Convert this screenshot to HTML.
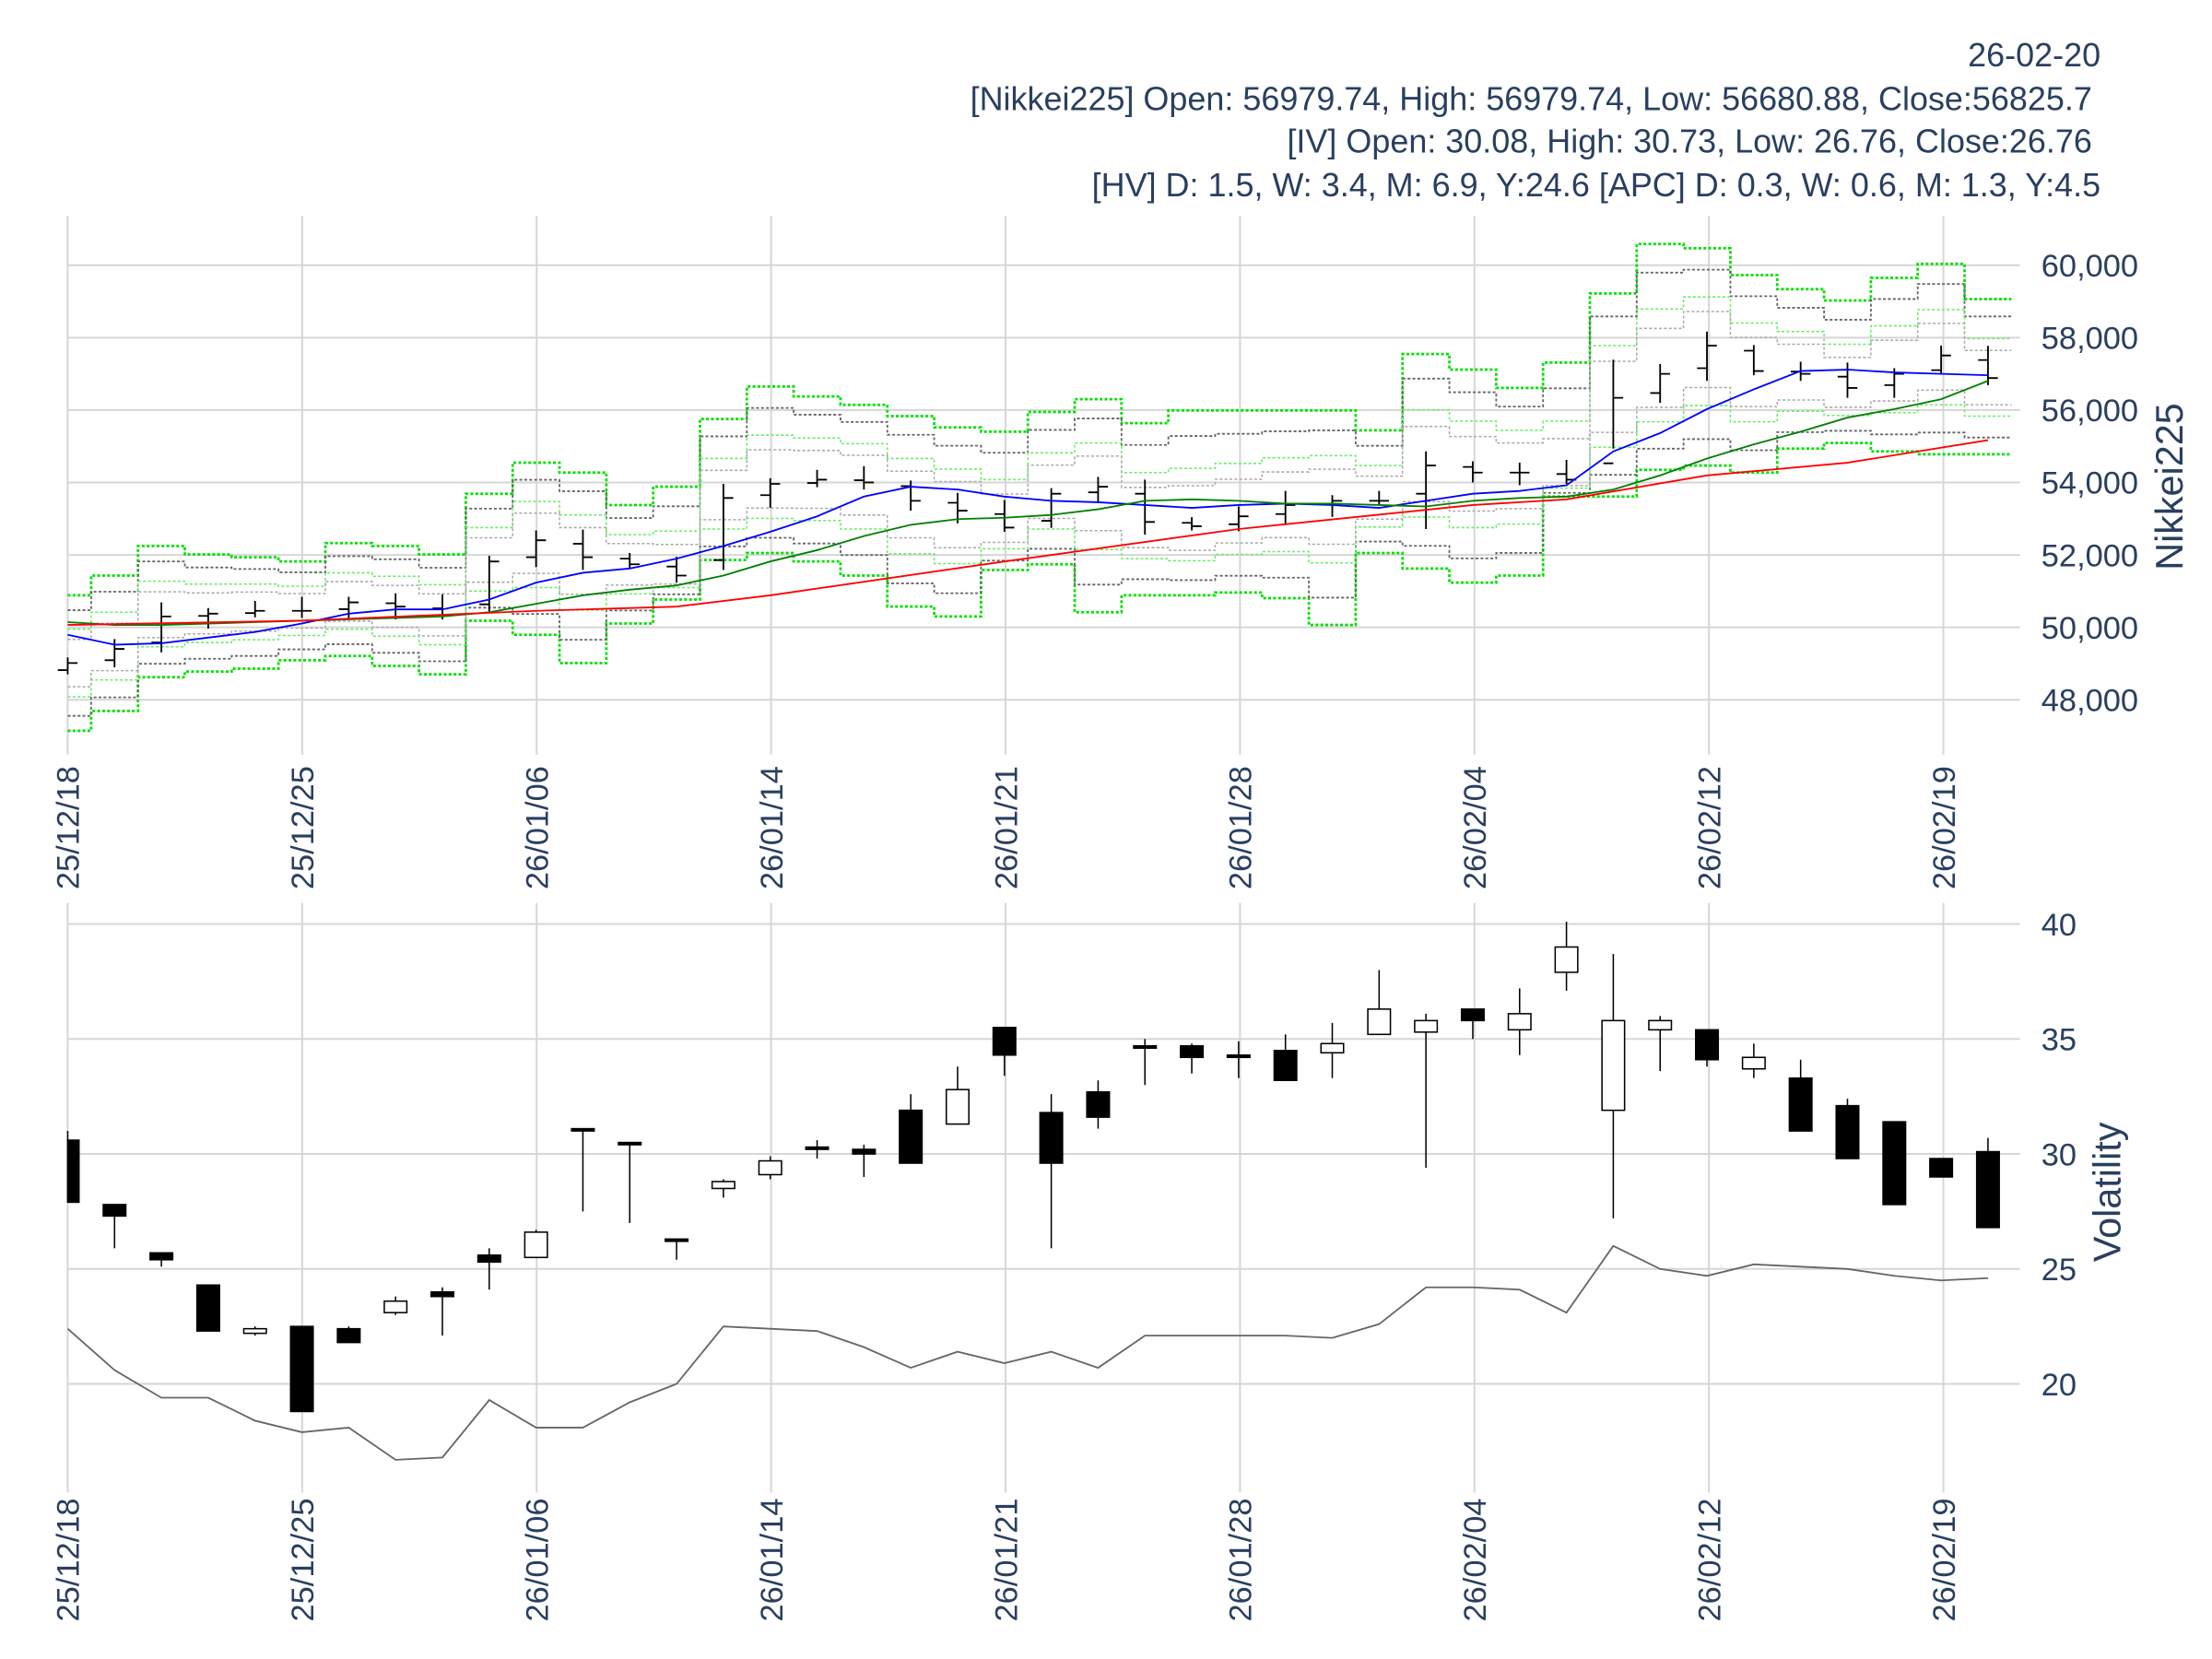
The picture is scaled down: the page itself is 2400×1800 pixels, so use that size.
<!DOCTYPE html>
<html><head><meta charset="utf-8"><style>
html,body{margin:0;padding:0;background:#fff;}
svg{display:block;}
text{font-family:"Liberation Sans",sans-serif;fill:#2a3f5f;}
</style></head><body>
<svg id="s" width="2400" height="1800" viewBox="0 0 1568 1176" xmlns="http://www.w3.org/2000/svg">
<g id="g"></g>
<text x="1489" y="47" font-size="23.5" text-anchor="end">26-02-20</text>
<text x="1483" y="78" font-size="23.5" text-anchor="end">[Nikkei225] Open: 56979.74, High: 56979.74, Low: 56680.88, Close:56825.7</text>
<text x="1483" y="108" font-size="23.5" text-anchor="end">[IV] Open: 30.08, High: 30.73, Low: 26.76, Close:26.76</text>
<text x="1489" y="139" font-size="23.5" text-anchor="end">[HV] D: 1.5, W: 3.4, M: 6.9, Y:24.6 [APC] D: 0.3, W: 0.6, M: 1.3, Y:4.5</text>
<text transform="translate(1547,345) rotate(-90)" font-size="27" text-anchor="middle">Nikkei225</text>
<text transform="translate(1503,845) rotate(-90)" font-size="27" text-anchor="middle">Volatility</text>
</svg>
<script>
var g=document.getElementById('g'),h='';
function X(i){return 48+i*33.2;}
function YT(v){return 188+(60000-v)*0.02567;}
function YB(v){return 655+(40-v)*16.3;}
var dates=['25/12/18','25/12/25','26/01/06','26/01/14','26/01/21','26/01/28','26/02/04','26/02/12','26/02/19'];
for(var k=0;k<9;k++){var x=48+k*166.2;
 h+='<line x1="'+x+'" y1="153" x2="'+x+'" y2="535" stroke="#d6d6d6" stroke-width="1.3"/>';
 h+='<line x1="'+x+'" y1="640" x2="'+x+'" y2="1058" stroke="#d6d6d6" stroke-width="1.3"/>';
 h+='<text transform="translate('+(x+8)+',543) rotate(-90)" font-size="22.5" text-anchor="end">'+dates[k]+'</text>';
 h+='<text transform="translate('+(x+8)+',1062) rotate(-90)" font-size="22.5" text-anchor="end">'+dates[k]+'</text>';}
for(var v=48000;v<=60000;v+=2000){var y=YT(v);
 h+='<line x1="48" y1="'+y+'" x2="1432" y2="'+y+'" stroke="#d6d6d6" stroke-width="1.3"/>';
 h+='<text x="1447" y="'+(y+8)+'" font-size="22.5">'+v.toLocaleString('en-US')+'</text>';}
for(var v=20;v<=40;v+=5){var y=YB(v);
 h+='<line x1="48" y1="'+y+'" x2="1432" y2="'+y+'" stroke="#d6d6d6" stroke-width="1.3"/>';
 h+='<text x="1447" y="'+(y+8)+'" font-size="22.5">'+v+'</text>';}
var C=[470,460,437,435,433,433,427,430,436,398,383,395,400,408,353,343,340,342,355,362,374,350,345,370,373,366,358,355,355,330,335,335,340,282,265,245,263,265,275,265,252,268];
var U=[422,408,387,393,395,398,385,387,393,350,328,335,358,345,297,274,281,287,295,303,306,292,283,300,291,291,291,291,305,251,262,275,257,208,173,176,195,205,213,197,187,212];
var L=[518,504,480,476,474,468,465,472,478,440,450,470,442,425,397,392,398,408,430,437,404,400,434,422,422,420,424,443,392,403,413,408,352,352,333,330,335,318,314,320,322,322];
function step(f,col,dash,w){var d='';for(var i=0;i<42;i++){var y=f(i);var x0=X(i)-16.6,x1=X(i)+16.6;if(i==0)x0=48;d+=(i==0?'M':'L')+x0+' '+y+'L'+x1+' '+y;}
 h+='<path d="'+d+'" fill="none" stroke="'+col+'" stroke-width="'+w+'" stroke-dasharray="'+dash+'"/>';}
step(function(i){return U[i];},'#00e000','2 1.5',1.8);
step(function(i){return L[i];},'#00e000','2 1.5',1.8);
step(function(i){return C[i]+(U[i]-C[i])*0.78;},'#666','2 1.5',1.2);
step(function(i){return C[i]+(L[i]-C[i])*0.78;},'#666','2 1.5',1.2);
step(function(i){return C[i]+(U[i]-C[i])*0.5;},'#66ee66','2 1.5',1);
step(function(i){return C[i]+(L[i]-C[i])*0.5;},'#66ee66','2 1.5',1);
step(function(i){return C[i]+(U[i]-C[i])*0.35;},'#aaa','2 1.5',1);
step(function(i){return C[i]+(L[i]-C[i])*0.35;},'#aaa','2 1.5',1);
for(var i=0;i<42;i++){var x=X(i),c=C[i],o=i?C[i-1]+(c-C[i-1])*0.2:c+5;var hi=Math.min(o,c)-4-(i%3)*3,lo=Math.max(o,c)+3+(i%4)*2;
 if(i==33){hi=255;lo=318;} if(i==29){hi=320;lo=375;}
 h+='<path d="M'+x+' '+hi+'V'+lo+'M'+(x-7)+' '+o+'H'+x+'M'+x+' '+c+'H'+(x+7)+'" stroke="#000" stroke-width="1.2" fill="none"/>';}
function line(pts,col){var d='';pts.forEach(function(p,i){d+=(i?'L':'M')+X(p[0])+' '+p[1];});h+='<path d="'+d+'" fill="none" stroke="'+col+'" stroke-width="1.2"/>';}
var B=[450,457,456,452,448,442,435,432,432,425,413,406,403,396,387,377,366,352,345,347,352,355,356,358,360,358,357,358,360,355,350,348,344,320,307,290,276,263,262,264,265,266];
var G=[441,443,443,442,441,440,439,438,437,434,428,422,418,415,408,398,390,380,372,368,367,365,361,355,354,355,357,357,358,359,355,353,352,347,337,325,315,306,296,290,283,270];
line(B.map(function(y,i){return [i,y];}),'#0000ff');
line(G.map(function(y,i){return [i,y];}),'#008000');
line([[0,443],[5,440],[10,433],[13,430],[15,422],[20,398],[25,375],[30,358],[32,354],[35,337],[38,328],[41,312]],'#ff0000');
var K=[[30.6,27.9,31,27.9],[27.8,27.3,27.8,25.9],[25.7,25.4,25.7,25.1],[24.3,22.3,24.3,22.3],[22.2,22.4,22.5,22.1],[22.5,18.8,22.5,18.8],[22.4,21.8,22.5,21.8],[23.1,23.6,23.8,23.0],[24.0,23.8,24.2,22.1],[25.6,25.3,25.9,24.1],[25.5,26.6,26.7,25.5],[31.1,31.0,31.1,27.5],[30.5,30.4,30.5,27.0],[26.3,26.2,26.3,25.4],[28.5,28.8,28.9,28.1],[29.1,29.7,29.9,28.9],[30.3,30.2,30.6,29.8],[30.2,30.0,30.4,29.0],[31.9,29.6,32.6,29.6],[31.3,32.8,33.8,31.3],[35.5,34.3,35.5,33.4],[31.8,29.6,32.6,25.9],[32.7,31.6,33.2,31.1],[34.7,34.6,35.0,33.0],[34.7,34.2,34.8,33.5],[34.3,34.2,34.9,33.3],[34.5,33.2,35.2,33.2],[34.4,34.8,35.7,33.3],[35.2,36.3,38.0,35.2],[35.3,35.8,36.1,29.4],[36.3,35.8,36.3,35.0],[35.4,36.1,37.2,34.3],[37.9,39.0,40.1,37.1],[31.9,35.8,38.7,27.2],[35.4,35.8,36.0,33.6],[35.4,34.1,35.4,33.8],[33.7,34.2,34.8,33.3],[33.3,31.0,34.1,31.0],[32.1,29.8,32.4,29.8],[31.4,27.8,31.4,27.8],[29.8,29.0,29.8,29.0],[30.1,26.8,30.7,26.8]];
K.forEach(function(k,i){var x=X(i),o=k[0],c=k[1];var up=c>=o;var t=YB(Math.max(o,c)),b=YB(Math.min(o,c));var bh=Math.max(b-t,1.5);
 var x0=i==0?48:x-8,w=i==0?8:16;
 h+='<line x1="'+x+'" y1="'+YB(k[2])+'" x2="'+x+'" y2="'+YB(k[3])+'" stroke="#000" stroke-width="1"/>';
 h+='<rect x="'+x0+'" y="'+t+'" width="'+w+'" height="'+bh+'" fill="'+(up?'#fff':'#000')+'" stroke="#000" stroke-width="1"/>';});
var HV=[22.4,20.6,19.4,19.4,18.4,17.9,18.1,16.7,16.8,19.3,18.1,18.1,19.2,20.0,22.5,22.4,22.3,21.6,20.7,21.4,20.9,21.4,20.7,22.1,22.1,22.1,22.1,22.0,22.6,24.2,24.2,24.1,23.1,26.0,25.0,24.7,25.2,25.1,25.0,24.7,24.5,24.6];
line(HV.map(function(v,i){return [i,YB(v)];}),'#666');
g.innerHTML=h;
</script>
</body></html>
